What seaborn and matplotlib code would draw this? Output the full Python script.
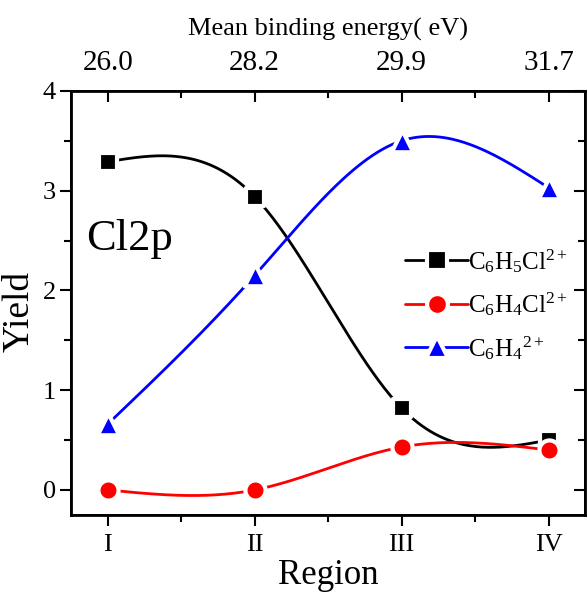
import numpy as np
import pandas as pd
import matplotlib
matplotlib.use("Agg")
import matplotlib.pyplot as plt
import seaborn as sns
from matplotlib.lines import Line2D
from matplotlib.ticker import MultipleLocator, FixedLocator

regions = ["I", "II", "III", "IV"]
energies = ["26.0", "28.2", "29.9", "31.7"]
c6h5cl = [3.29, 2.94, 0.82, 0.50]
c6h4cl = [0.00, 0.00, 0.43, 0.40]
c6h4 = [0.66, 2.15, 3.50, 3.03]

sns.set_theme(style="ticks")
plt.rcParams["font.family"] = ["Liberation Serif", "DejaVu Serif"]
plt.rcParams["mathtext.fontset"] = "custom"
plt.rcParams["mathtext.rm"] = "Liberation Serif"
plt.rcParams["mathtext.it"] = "Liberation Serif:italic"
for k in ["text.color", "axes.labelcolor", "xtick.color", "ytick.color", "axes.edgecolor"]:
    plt.rcParams[k] = "black"


def natural_spline(x, y, n=300):
    x = np.asarray(x, float)
    y = np.asarray(y, float)
    k = len(x)
    h = np.diff(x)
    A = np.zeros((k, k))
    b = np.zeros(k)
    A[0, 0] = 1
    A[-1, -1] = 1
    for i in range(1, k - 1):
        A[i, i - 1] = h[i - 1]
        A[i, i] = 2 * (h[i - 1] + h[i])
        A[i, i + 1] = h[i]
        b[i] = 6 * ((y[i + 1] - y[i]) / h[i] - (y[i] - y[i - 1]) / h[i - 1])
    M = np.linalg.solve(A, b)
    xs = np.linspace(x[0], x[-1], n)
    ys = np.empty_like(xs)
    for j, t in enumerate(xs):
        i = min(np.searchsorted(x, t, side="right") - 1, k - 2)
        a = x[i + 1] - t
        c = t - x[i]
        ys[j] = (M[i] * a**3 + M[i + 1] * c**3) / (6 * h[i]) \
            + (y[i] / h[i] - M[i] * h[i] / 6) * a \
            + (y[i + 1] / h[i] - M[i + 1] * h[i] / 6) * c
    return xs, ys


fig = plt.figure(figsize=(5.87, 5.98), dpi=100)
ax = fig.add_axes([0.121, 0.139, 0.876, 0.709])

xpos = np.arange(1, len(regions) + 1)
series = [
    (c6h5cl, "black", "s", 10, r"C$_6$H$_5$Cl$^{2+}$"),
    (c6h4cl, "#ff0000", "o", 11, r"C$_6$H$_4$Cl$^{2+}$"),
    (c6h4, "#0000ff", "^", 12, r"C$_6$H$_4$$^{2+}$"),
]
handles = []
for vals, col, mk, ms, lab in series:
    xs, ys = natural_spline(xpos, vals)
    sns.lineplot(x=xs, y=ys, ax=ax, color=col, lw=2.0, sort=False, zorder=2)
    df = pd.DataFrame({"x": xpos, "y": vals})
    sns.scatterplot(data=df, x="x", y="y", ax=ax, marker=mk, s=(ms + 3.5) ** 2,
                    color=col, edgecolor="white", linewidth=3, zorder=3)
    handles.append(Line2D([], [], color=col, lw=2.0, marker=mk, markersize=ms + 4,
                          markeredgecolor="white", markeredgewidth=3,
                          markerfacecolor=col, label=lab))

ax.set_xlim(0.75, 4.25)
ax.set_ylim(-0.25, 4.0)
ax.set_xticks(xpos)
ax.set_xticklabels(regions)
ax.xaxis.set_minor_locator(FixedLocator([1.5, 2.5, 3.5]))
ax.yaxis.set_major_locator(MultipleLocator(1))
ax.yaxis.set_minor_locator(MultipleLocator(0.5))
ax.tick_params(axis="x", which="major", labelsize=19, direction="out", length=8, width=1.5, pad=6)
ax.tick_params(axis="x", which="minor", direction="out", length=5, width=1.5)
ax.tick_params(axis="y", which="major", labelsize=19, direction="out", length=8, width=1.5, pad=3)
ax.tick_params(axis="y", which="minor", direction="out", length=5, width=1.5)
for s in ax.spines.values():
    s.set_linewidth(2)
    s.set_color("black")

axr = ax.twinx()
axr.set_ylim(ax.get_ylim())
axr.yaxis.set_major_locator(MultipleLocator(1))
axr.yaxis.set_minor_locator(MultipleLocator(0.5))
axr.tick_params(axis="y", which="major", direction="in", length=8, width=1.5, labelright=False)
axr.tick_params(axis="y", which="minor", direction="in", length=5, width=1.5)

axt = ax.twiny()
axt.set_xlim(ax.get_xlim())
axt.set_xticks(xpos)
axt.set_xticklabels(energies)
axt.xaxis.set_minor_locator(FixedLocator([1.5, 2.5, 3.5]))
axt.tick_params(axis="x", which="major", direction="in", length=8, width=1.5, labelsize=21, pad=11)
axt.tick_params(axis="x", which="minor", direction="in", length=5, width=1.5)
axt.set_xlabel("Mean binding energy( eV)", fontsize=19, labelpad=10)

ax.set_xlabel("Region", fontsize=25, labelpad=2)
ax.set_ylabel("Yield", fontsize=27)
ax.yaxis.set_label_coords(-0.066, 0.481)
ax.text(0.85, 2.41, "Cl2p", fontsize=32, ha="left", va="baseline")

leg = ax.legend(handles=handles, loc="upper left", bbox_to_anchor=(0.65, 0.632),
                frameon=False, fontsize=18, handlelength=2.5, handletextpad=0.0,
                labelspacing=0.62, borderaxespad=0, borderpad=0)

fig.savefig("out.png", dpi=100)
